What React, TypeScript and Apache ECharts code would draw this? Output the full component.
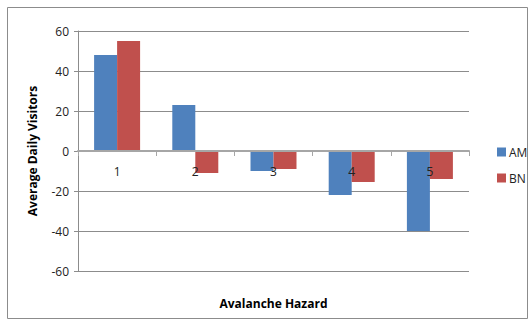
import React, { useEffect, useRef } from "react";
import * as echarts from "echarts";

const categories = ["1", "2", "3", "4", "5"];
const amValues = [48, 23, -10, -22, -40];
const bnValues = [55, -11, -9, -15.5, -14];

const FONT = "'Open Sans', 'Liberation Sans', sans-serif";

// Plot spans -60..60 over 240 px, so the zero line sits 120 px above the bottom edge.
const ZERO_OFFSET = -120;

export default function App() {
  const ref = useRef<HTMLDivElement>(null);

  useEffect(() => {
    if (!ref.current) return;
    const chart = echarts.init(ref.current, null, { renderer: "svg" });
    chart.setOption({
      animation: false,
      backgroundColor: "#ffffff",
      textStyle: { fontFamily: FONT },
      graphic: [
        {
          type: "rect",
          shape: { x: 7.5, y: 7.5, width: 520, height: 311 },
          style: { fill: "none", stroke: "#8c8c8c", lineWidth: 1 },
          silent: true,
        },
      ],
      grid: { left: 78, right: 61, top: 31, bottom: 50 },
      legend: {
        orient: "vertical",
        left: 492,
        top: 141,
        itemWidth: 9,
        itemHeight: 9,
        itemGap: 14,
        icon: "rect",
        textStyle: { fontSize: 12, color: "#222", fontFamily: FONT, padding: [0, 0, 0, -2] },
        data: ["AM", "BN"],
      },
      xAxis: {
        type: "category",
        data: categories,
        position: "bottom",
        offset: ZERO_OFFSET,
        z: 3,
        name: "Avalanche Hazard",
        nameLocation: "middle",
        nameGap: 146,
        nameTextStyle: { fontWeight: "bold", fontSize: 12, color: "#000", fontFamily: FONT },
        axisLine: { onZero: false, lineStyle: { color: "#a6a6a6", width: 2 } },
        axisTick: { show: true, length: 5, lineStyle: { color: "#a6a6a6" } },
        axisLabel: { margin: 14, fontSize: 12, color: "#222" },
        splitLine: { show: false },
      },
      yAxis: {
        type: "value",
        min: -60,
        max: 60,
        interval: 20,
        name: "Average Daily Visitors",
        nameLocation: "middle",
        nameGap: 40,
        nameTextStyle: { fontWeight: "bold", fontSize: 12, color: "#000", fontFamily: FONT },
        axisLine: { show: true, lineStyle: { color: "#8c8c8c" } },
        axisTick: { show: true, length: 4, lineStyle: { color: "#8c8c8c" } },
        axisLabel: { fontSize: 12, color: "#222", margin: 9 },
        splitLine: { show: true, lineStyle: { color: "#8c8c8c", width: 1 } },
      },
      series: [
        {
          name: "AM",
          type: "bar",
          data: amValues,
          itemStyle: { color: "#4F81BD" },
          barWidth: 23,
          barGap: "0%",
        },
        {
          name: "BN",
          type: "bar",
          data: bnValues,
          itemStyle: { color: "#C0504D" },
          barWidth: 23,
          barGap: "0%",
        },
      ],
    });
    return () => chart.dispose();
  }, []);

  return (
    <div
      ref={ref}
      style={{ position: "absolute", left: 0, top: 0, width: 530, height: 321 }}
    />
  );
}
